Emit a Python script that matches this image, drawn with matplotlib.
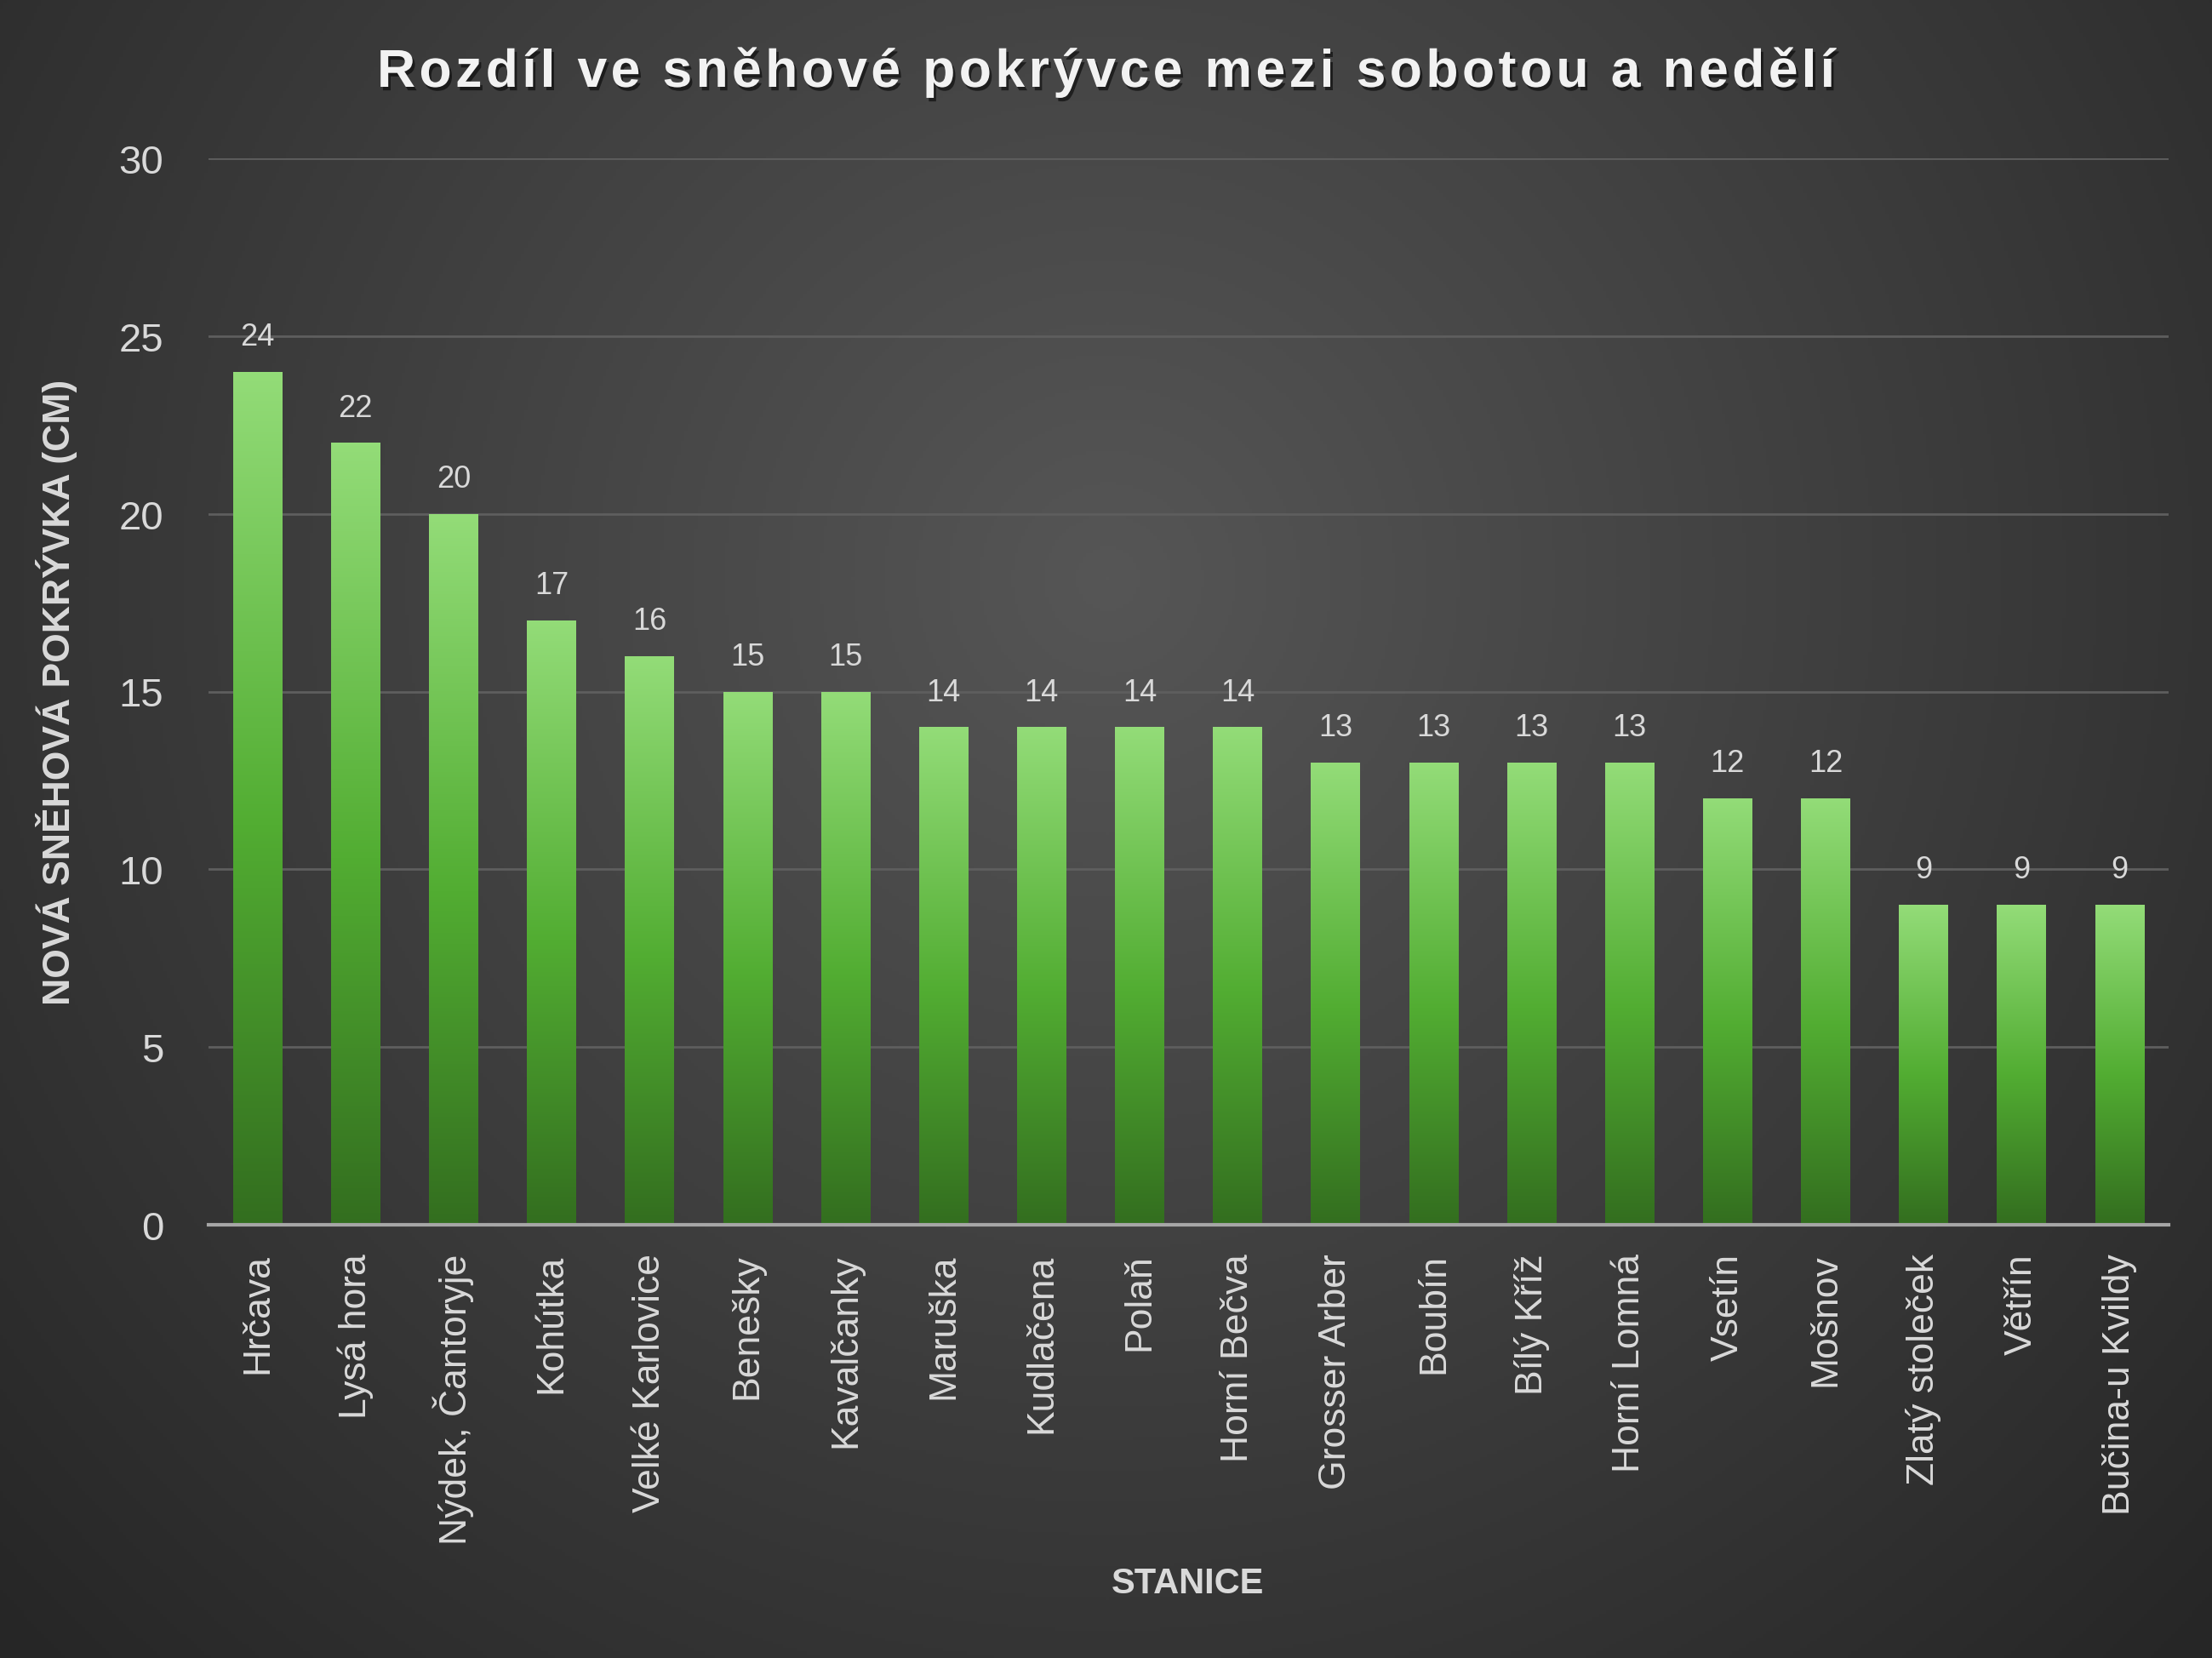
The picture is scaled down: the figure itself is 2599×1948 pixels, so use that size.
import numpy as np
import matplotlib
matplotlib.use("Agg")
import matplotlib.pyplot as plt
import matplotlib.patheffects as pe
from matplotlib.colors import LinearSegmentedColormap
from matplotlib.font_manager import FontProperties
from matplotlib.transforms import IdentityTransform

# Data
stations = ["Hrčava", "Lysá hora", "Nýdek, Čantoryje", "Kohútka", "Velké Karlovice",
            "Benešky", "Kavalčanky", "Maruška", "Kudlačena", "Polaň", "Horní Bečva",
            "Grosser Arber", "Boubín", "Bílý Kříž", "Horní Lomná", "Vsetín", "Mošnov",
            "Zlatý stoleček", "Větřín", "Bučina-u Kvildy"]
snow_cm = [24, 22, 20, 17, 16, 15, 15, 14, 14, 14, 14, 13, 13, 13, 13, 12, 12, 9, 9, 9]
y_ticks = [0, 5, 10, 15, 20, 25, 30]

title = "Rozdíl ve sněhové pokrývce mezi sobotou a nedělí"
ylabel = "NOVÁ SNĚHOVÁ POKRÝVKA (CM)"
xlabel = "STANICE"

W, H = 2599, 1949
plt.rcParams['font.family'] = ['Liberation Sans', 'DejaVu Sans']
fig = plt.figure(figsize=(W / 100, H / 100), dpi=100)

# radialni pozadi
bg = fig.add_axes([0, 0, 1, 1], zorder=-10)
yy, xx = np.mgrid[0:H:4, 0:W:4]
r = np.sqrt((xx - 1300) ** 2 + (yy - 680) ** 2) / 1800.0
r = np.clip(r, 0, 1)
c_in, c_out = 0x56 / 255, 0x26 / 255
grey = c_in + (c_out - c_in) * r
bg.imshow(np.dstack([grey, grey, grey]), extent=[0, 1, 0, 1], aspect='auto', origin='upper')
bg.axis('off')

# graf
ax = fig.add_axes([245 / W, 1 - 1440 / H, (2548 - 245) / W, (1440 - 187) / H])
ax.patch.set_alpha(0)

x = np.arange(len(stations))
bars = ax.bar(x, snow_cm, width=0.5, color='none', edgecolor='none', zorder=3)

# gradient v kazdem sloupci
green = LinearSegmentedColormap.from_list(
    "snowgreen", [(0.0, "#336e1f"), (0.47, "#52ad32"), (1.0, "#93dc78")])
grad = np.linspace(0, 1, 256).reshape(-1, 1)
for b in bars:
    im = ax.imshow(grad, cmap=green, origin='lower', aspect='auto', zorder=3,
                   extent=[b.get_x(), b.get_x() + b.get_width(), 0, b.get_height()])
    im.set_clip_path(b)

ax.bar_label(bars, labels=[str(v) for v in snow_cm], padding=17, fontsize=26, color='#d9d9d9')

ax.set_xlim(-0.5, len(stations) - 0.5)
ax.set_ylim(0, 30)
ax.set_yticks(y_ticks)
ax.set_xticks(x)
ax.set_xticklabels(stations, rotation=90, ha='center', va='top')
ax.tick_params(axis='y', length=0, pad=38, labelsize=34, labelcolor='#d9d9d9')
ax.tick_params(axis='x', length=0, pad=24, labelsize=32, labelcolor='#d9d9d9')
ax.yaxis.grid(True, color='#5e5e5e', lw=2)
ax.set_axisbelow(True)
for s in ['top', 'right', 'left']:
    ax.spines[s].set_visible(False)
ax.spines['bottom'].set_color('#a6a6a6')
ax.spines['bottom'].set_linewidth(3)
ax.spines['bottom'].set_zorder(4)

ax.set_ylabel(ylabel, fontsize=32, fontweight='bold', color='#d9d9d9')
ax.yaxis.set_label_coords((91 - 245) / (2548 - 245), 0.5)
fig.text(1396 / W, 1 - 1861 / H, xlabel, fontsize=30, fontweight='bold',
         color='#d9d9d9', ha='center', va='center')

# nadpis s rozestupem pismen a stinem
renderer = fig.canvas.get_renderer()
prop = FontProperties(family='Liberation Sans', weight='bold', size=45)
def text_w(s):
    return renderer.get_text_width_height_descent(s, prop, ismath=False)[0]
natural = text_w(title)
target = 1713
spacing = (target - natural) / (len(title) - 1)
x0 = W / 2 - target / 2
base_y = H - 103
shadow = [pe.withSimplePatchShadow(offset=(2, -3), shadow_rgbFace='black', alpha=0.55)]
for i, ch in enumerate(title):
    if ch == ' ':
        continue
    adv = text_w(title[:i] + 'x') - text_w('x') if i else 0
    fig.text(x0 + adv + i * spacing, base_y, ch, transform=IdentityTransform(),
             fontproperties=prop, color='#f2f2f2', ha='left', va='baseline',
             path_effects=shadow)

fig.savefig("out.png", dpi=100)
